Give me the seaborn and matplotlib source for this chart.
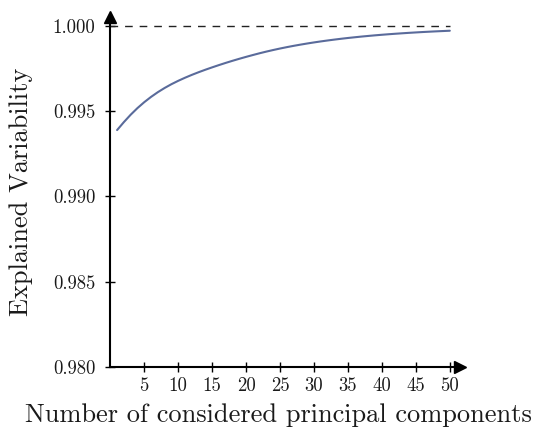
import matplotlib
matplotlib.use("Agg")
import matplotlib.pyplot as plt
import seaborn as sns
import pandas as pd

# Data
components = list(range(1, 51))
explained = [
    0.993900, 0.994369, 0.994802, 0.995192, 0.995539, 0.995849, 0.996126, 0.996373, 0.996595, 0.996793,
    0.996974, 0.997142, 0.997298, 0.997445, 0.997584, 0.997718, 0.997847, 0.997970, 0.998088, 0.998201,
    0.998309, 0.998414, 0.998512, 0.998604, 0.998691, 0.998772, 0.998848, 0.998919, 0.998986, 0.999049,
    0.999108, 0.999163, 0.999215, 0.999264, 0.999310, 0.999352, 0.999393, 0.999430, 0.999466, 0.999499,
    0.999530, 0.999559, 0.999586, 0.999612, 0.999636, 0.999659, 0.999680, 0.999700, 0.999718, 0.999736,
]
x_ticks = [5, 10, 15, 20, 25, 30, 35, 40, 45, 50]
y_ticks = [0.980, 0.985, 0.990, 0.995, 1.000]
y_tick_labels = ["0.980", "0.985", "0.990", "0.995", "1.000"]
x_label = "Number of considered principal components"
y_label = "Explained Variability"

sns.set_theme(style="white")
plt.rcParams["font.family"] = ["cmr10", "DejaVu Serif"]
plt.rcParams["mathtext.fontset"] = "cm"
plt.rcParams["axes.formatter.use_mathtext"] = True

df = pd.DataFrame({"k": components, "ev": explained})

fig = plt.figure(figsize=(5.39, 4.32), dpi=100)
ax = fig.add_axes([110.3 / 539, 1 - 366.7 / 432, (460 - 110.3) / 539, (366.7 - 16.7) / 432])

sns.lineplot(data=df, x="k", y="ev", ax=ax, color="#5a6b9b", linewidth=1.5)
ax.plot([0, 50], [1.0, 1.0], color="#222222", linewidth=1.0, dashes=(5.5, 5))

ax.set_xlim(0, 51.5)
ax.set_ylim(0.980, 1.00056)

for s in ["top", "right"]:
    ax.spines[s].set_visible(False)
for s in ["left", "bottom"]:
    ax.spines[s].set_color("black")
    ax.spines[s].set_linewidth(1.5)

ax.plot(1, 0, ">", color="black", markersize=9, transform=ax.transAxes, clip_on=False)
ax.plot(0, 1, "^", color="black", markersize=9, transform=ax.transAxes, clip_on=False)

ax.set_xticks(x_ticks)
ax.set_xticklabels([str(t) for t in x_ticks])
ax.set_yticks(y_ticks)
ax.set_yticklabels(y_tick_labels)
ax.tick_params(axis="both", which="major", direction="inout", length=7.5, width=1.0,
               color="black", labelsize=13.5, bottom=True, left=True,
               labelcolor="#1a1a1a")
ax.tick_params(axis="x", pad=4)
ax.tick_params(axis="y", pad=7)

ax.set_xlabel(x_label, fontsize=19, color="#1a1a1a")
ax.set_ylabel(y_label, fontsize=19, color="#1a1a1a")
ax.xaxis.set_label_coords(0.482, -0.105)
ax.yaxis.set_label_coords(-0.221, 0.5)

fig.savefig("out.png", dpi=100)
